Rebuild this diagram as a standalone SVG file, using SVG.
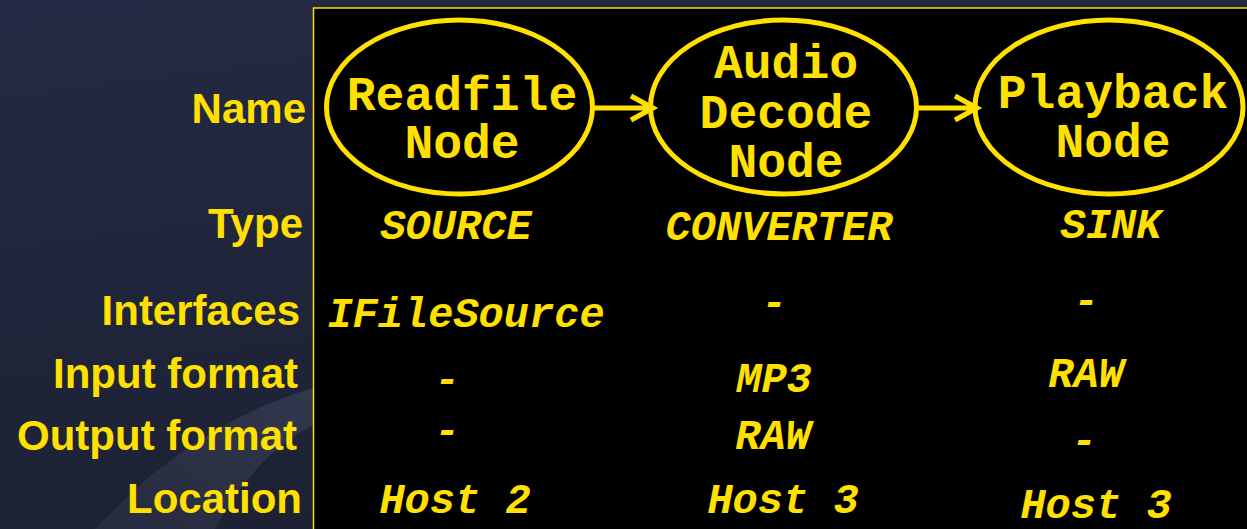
<svg xmlns="http://www.w3.org/2000/svg" width="1247" height="529" viewBox="0 0 1247 529">
  <defs>
    <linearGradient id="bg" x1="0" y1="0" x2="0.3" y2="1">
      <stop offset="0" stop-color="#242a43"/>
      <stop offset="1" stop-color="#1c2133"/>
    </linearGradient>
    <linearGradient id="sw" x1="1" y1="0" x2="0" y2="1">
      <stop offset="0" stop-color="#353a50" stop-opacity="0.9"/>
      <stop offset="1" stop-color="#2c3146" stop-opacity="0.6"/>
    </linearGradient>
    <style>
      .lbl { font-family: "Liberation Sans", Arial, sans-serif; font-weight: bold; font-size: 42px; fill: #ffe000; text-anchor: end; }
      .node { fill: none; stroke: #ffe000; stroke-width: 5; }
      .ntxt { font-family: "Liberation Mono", "Courier New", monospace; font-weight: bold; font-size: 48px; fill: #ffe000; text-anchor: middle; }
      .val { font-family: "Liberation Mono", "Courier New", monospace; font-weight: bold; font-style: italic; font-size: 42px; fill: #ffe000; text-anchor: middle; }
      .conn { fill: none; stroke: #ffe000; stroke-width: 5; stroke-linecap: butt; stroke-linejoin: miter; }
    </style>
  </defs>

  <rect x="0" y="0" width="1247" height="529" fill="url(#bg)"/>
  <path d="M 313 388 Q 190 425 95 529 L 215 529 Q 255 455 313 425 Z" fill="url(#sw)"/>

  <rect x="313.5" y="8" width="940" height="530" fill="#000" stroke="#ffe000" stroke-width="1.5"/>

  <g id="labels">
    <text class="lbl" x="306" y="123">Name</text>
    <text class="lbl" x="303" y="238">Type</text>
    <text class="lbl" x="300" y="325">Interfaces</text>
    <text class="lbl" x="298" y="388">Input format</text>
    <text class="lbl" x="297" y="450">Output format</text>
    <text class="lbl" x="302" y="513">Location</text>
  </g>

  <g id="connectors">
    <path class="conn" d="M 593 108 L 653 108 M 631 96 L 653 108 L 631 120"/>
    <path class="conn" d="M 917 108 L 977 108 M 955 96 L 977 108 L 955 120"/>
  </g>

  <g id="readfile">
    <ellipse class="node" cx="459.5" cy="107" rx="133" ry="87"/>
    <text class="ntxt" x="462" y="110">Readfile</text>
    <text class="ntxt" x="462" y="158">Node</text>
    <text class="val" x="456" y="239">SOURCE</text>
    <text class="val" x="466" y="327">IFileSource</text>
    <text class="val" x="447" y="393">-</text>
    <text class="val" x="447" y="444">-</text>
    <text class="val" x="455" y="513">Host 2</text>
  </g>

  <g id="audiodecode">
    <ellipse class="node" cx="783.5" cy="107" rx="133" ry="87"/>
    <text class="ntxt" x="786" y="78">Audio</text>
    <text class="ntxt" x="786" y="128">Decode</text>
    <text class="ntxt" x="786" y="177">Node</text>
    <text class="val" x="779" y="240">CONVERTER</text>
    <text class="val" x="774" y="316">-</text>
    <text class="val" x="774" y="392">MP3</text>
    <text class="val" x="773" y="449">RAW</text>
    <text class="val" x="783" y="513">Host 3</text>
  </g>

  <g id="playback">
    <ellipse class="node" cx="1109" cy="107" rx="134" ry="87"/>
    <text class="ntxt" x="1113" y="108">Playback</text>
    <text class="ntxt" x="1113" y="157">Node</text>
    <text class="val" x="1111" y="238">SINK</text>
    <text class="val" x="1086" y="314">-</text>
    <text class="val" x="1086" y="387">RAW</text>
    <text class="val" x="1084" y="454">-</text>
    <text class="val" x="1096" y="518">Host 3</text>
  </g>
</svg>
